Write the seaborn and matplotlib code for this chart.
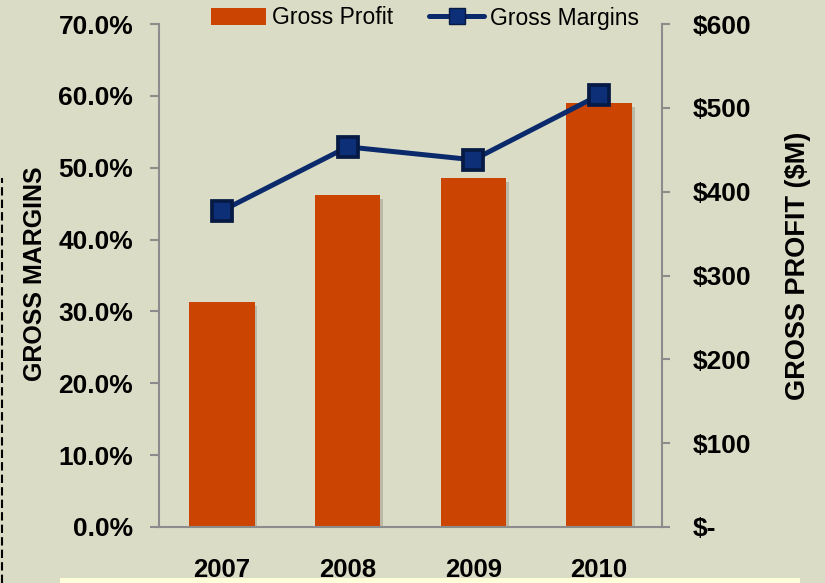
import matplotlib
matplotlib.use('Agg')
import matplotlib.pyplot as plt
import matplotlib.patheffects as pe
from matplotlib.lines import Line2D
from matplotlib.patches import Patch, Rectangle
from matplotlib.ticker import FuncFormatter, MultipleLocator, FixedLocator
import seaborn as sns
import pandas as pd

years = ['2007', '2008', '2009', '2010']
gross_profit = [268, 396, 416, 506]        # $M
gross_margin = [44.0, 52.9, 51.1, 60.1]    # %

df = pd.DataFrame({'year': years, 'profit': gross_profit, 'margin': gross_margin})

bg = '#dbdcc5'
bar_col = '#cc4402'
line_col = '#0b2a6c'
axis_col = '#8c8c8c'

sns.set_style('white')
plt.rcParams['font.family'] = ['Liberation Sans', 'DejaVu Sans']
plt.rcParams['text.color'] = 'black'
plt.rcParams['axes.labelcolor'] = 'black'

fig = plt.figure(figsize=(8.25, 5.83), dpi=100, facecolor=bg)
ax = fig.add_axes([159 / 825, 1 - 527 / 583, 503 / 825, 503 / 583])
ax2 = ax.twinx()

# bars on the right axis (profit)
sns.barplot(data=df, x='year', y='profit', ax=ax2, color=bar_col, width=0.52,
            saturation=1, edgecolor='none')
for p in ax2.patches:
    p.set_path_effects([pe.SimplePatchShadow(offset=(2, -3), shadow_rgbFace='#7a7a6a', alpha=0.35),
                        pe.Normal()])

# line on the left axis (margins)
sns.pointplot(data=df, x='year', y='margin', ax=ax, color=line_col, markers='s',
              markersize=15, linewidth=3.6, errorbar=None)
for l in ax.lines:
    l.set_markeredgecolor('#061a44')
    l.set_markerfacecolor('#0d2f78')

ax.set_zorder(ax2.get_zorder() + 1)
ax.patch.set_visible(False)
ax2.set_facecolor(bg)

ax.set_ylim(0, 70)
ax2.set_ylim(0, 600)
ax.set_xlim(-0.5, 3.5)
ax2.set_xlim(-0.5, 3.5)

ax.yaxis.set_major_locator(MultipleLocator(10))
ax.yaxis.set_major_formatter(FuncFormatter(lambda v, p: f'{v:.1f}%'))
ax2.yaxis.set_major_locator(MultipleLocator(100))
ax2.yaxis.set_major_formatter(FuncFormatter(lambda v, p: '$-' if v == 0 else f'${v:.0f}'))

ax.set_xlabel('')
ax.set_ylabel('')
ax2.set_xlabel('')
ax2.set_ylabel('')

# x ticks: marks on category boundaries, labels at centers
ax.xaxis.set_minor_locator(FixedLocator([-0.5, 0.5, 1.5, 2.5, 3.5]))
ax.tick_params(axis='x', which='minor', length=6, width=1.5, color=axis_col, direction='out')
ax.tick_params(axis='x', which='major', length=0, pad=22, labelsize=18.5, labelcolor='black')
ax2.tick_params(axis='x', which='both', length=0, labelbottom=False)
for t in ax.get_xticklabels():
    t.set_fontweight('bold')

ax.tick_params(axis='y', length=6.5, width=1.5, color=axis_col, pad=12, labelsize=19,
               left=True, labelcolor='black')
ax2.tick_params(axis='y', length=6, width=1.5, color=axis_col, pad=16, labelsize=19,
                right=True, labelcolor='black')
for t in ax.get_yticklabels() + ax2.get_yticklabels():
    t.set_fontweight('bold')

for s in ['top', 'right']:
    ax.spines[s].set_visible(False)
for s in ['top', 'left', 'bottom']:
    ax2.spines[s].set_visible(False)
for s in ['left', 'bottom']:
    ax.spines[s].set_color(axis_col)
    ax.spines[s].set_linewidth(1.5)
ax2.spines['right'].set_color(axis_col)
ax2.spines['right'].set_linewidth(1.5)

fig.text(35 / 825, 1 - 274 / 583, 'GROSS MARGINS', rotation=90, ha='center', va='center',
         fontsize=18, fontweight='bold', color='black')
fig.text(798 / 825, 1 - 266 / 583, 'GROSS PROFIT ($M)', rotation=90, ha='center', va='center',
         fontsize=19.5, fontweight='bold', color='black')

handles = [Patch(facecolor=bar_col, edgecolor='none'),
           Line2D([], [], color=line_col, lw=3.6, marker='s', markersize=12,
                  markerfacecolor='#0d2f78', markeredgecolor='#061a44')]
fig.legend(handles, ['Gross Profit', 'Gross Margins'], loc='center',
           bbox_to_anchor=(425 / 825, 1 - 18 / 583), ncol=2, frameon=False, fontsize=16.5,
           handlelength=2.4, handletextpad=0.25, columnspacing=1.6, handleheight=0.8,
           labelcolor='black')

# decorations at the edges
fig.add_artist(Rectangle((60 / 825, 0), 740 / 825, 5 / 583, transform=fig.transFigure,
                         facecolor='#ffffd9', edgecolor='none'))
fig.add_artist(Line2D([1.5 / 825, 1.5 / 825], [0, 1 - 178 / 583], transform=fig.transFigure,
                      color='black', lw=1.5, ls=(0, (4, 2))))

fig.savefig('out.png', dpi=100, facecolor=bg)
